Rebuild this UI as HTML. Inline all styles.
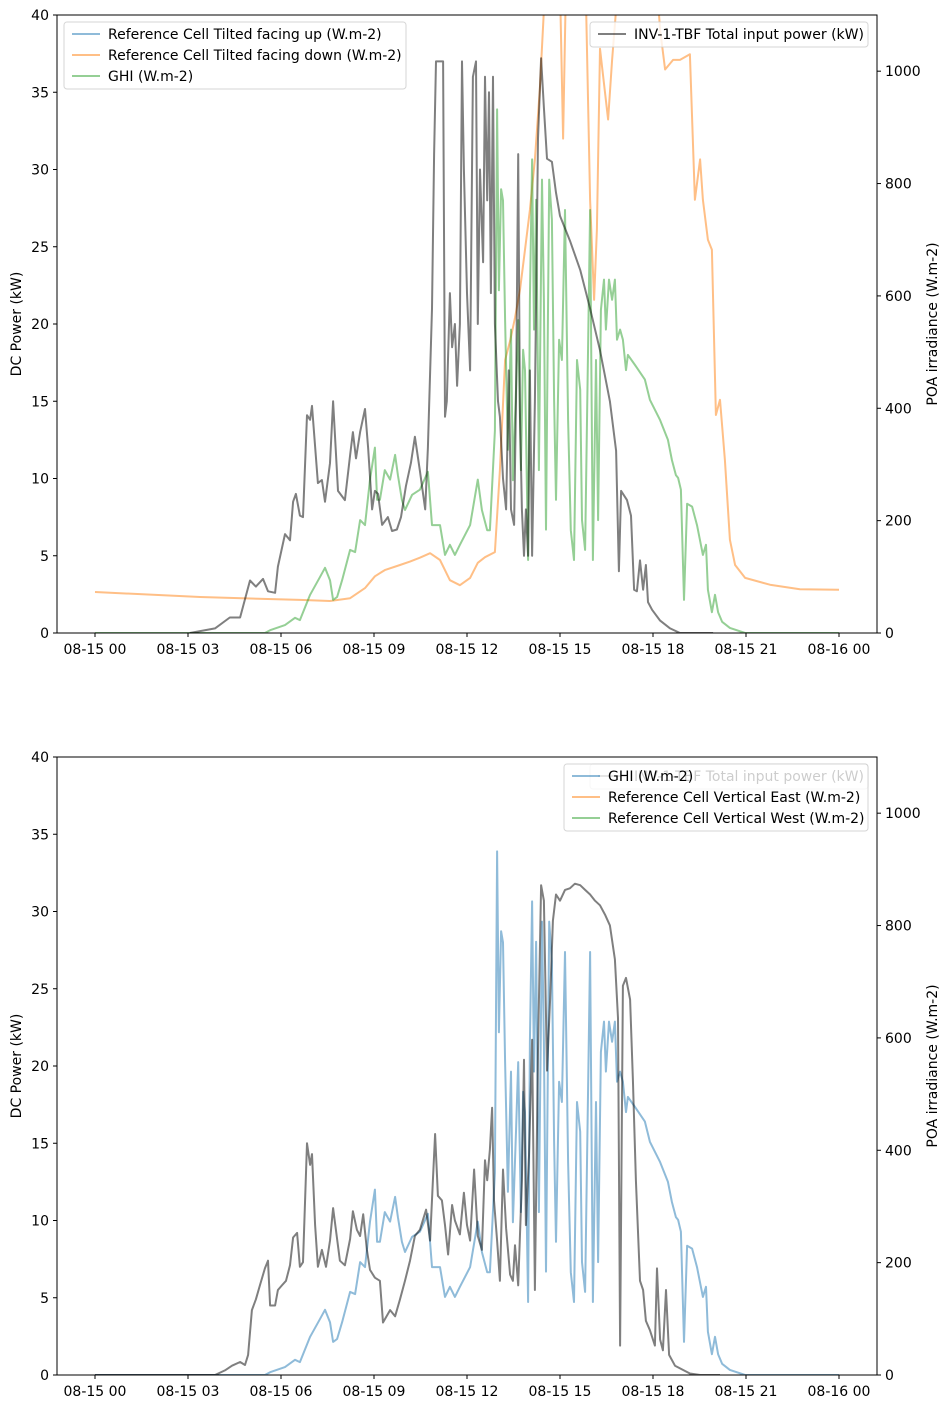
<!DOCTYPE html>
<html><head><meta charset="utf-8">
<style>
html,body{margin:0;padding:0;background:#fff;}
svg{display:block;font-family:"DejaVu Sans","Liberation Sans",sans-serif;}
</style></head>
<body>
<svg id="chart" width="949" height="1408" viewBox="0 0 949 1408" xmlns="http://www.w3.org/2000/svg"></svg>
<script>
// ---- data (hours since 08-15 00, values) ----
const xTickHours = [0,3,6,9,12,15,18,21,24];
const xTickLabels = ["08-15 00","08-15 03","08-15 06","08-15 09","08-15 12","08-15 15","08-15 18","08-15 21","08-16 00"];
const leftTicks = [0,5,10,15,20,25,30,35,40];
const rightTicks = [0,200,400,600,800,1000];

const topPowerH = [3.06,3.87,4.35,4.68,5.0,5.19,5.42,5.58,5.81,5.9,6.13,6.29,6.39,6.48,6.61,6.71,6.84,6.94,7.0,7.19,7.32,7.42,7.58,7.68,7.84,8.06,8.23,8.32,8.42,8.55,8.71,8.81,8.94,9.03,9.13,9.26,9.45,9.58,9.74,9.87,10.03,10.19,10.32,10.48,10.65,10.74,10.87,10.94,11.0,11.13,11.23,11.29,11.35,11.45,11.52,11.61,11.68,11.77,11.84,11.9,12.0,12.1,12.19,12.29,12.35,12.42,12.52,12.58,12.65,12.71,12.77,12.84,12.9,13.0,13.06,13.16,13.26,13.35,13.42,13.52,13.58,13.65,13.71,13.77,13.84,13.9,13.97,14.03,14.1,14.19,14.29,14.39,14.48,14.58,14.74,14.87,15.0,15.32,15.65,15.97,16.29,16.61,16.81,16.9,16.97,17.16,17.29,17.39,17.48,17.58,17.68,17.77,17.84,17.97,18.23,18.55,18.87,19.94];
const topPowerV = [0,0.3,1.0,1.0,3.4,3.0,3.5,2.7,2.6,4.3,6.4,6.0,8.5,9.0,7.6,7.5,14.1,13.8,14.7,9.7,9.9,8.5,11,15,9.2,8.6,11.5,13,11.3,13,14.5,12,8,9.2,9,7,7.5,6.6,6.7,7.5,9.5,11,12.7,10.5,8,12,21,31,37,37,37,14,15,22,18.5,20,16,20,37,30,22,17,36,37,20,30,24,36,28,35,22,36,20,15,14,10,8,17,8,7,15,31,14,8,5,8,5,17,5,15,32,37.2,34,30.7,30.5,28.5,27,25.4,23.5,21,18.3,15,11.8,4,9.2,8.6,7.6,2.8,2.7,4.7,2.8,4.4,2,1.5,0.8,0.3,0,0];

const downH = [0,3.39,6.61,7.58,8.23,8.71,9.03,9.35,9.84,10.16,10.48,10.81,11.13,11.45,11.77,12.1,12.35,12.58,12.9,13.06,13.23,13.39,13.55,13.71,13.87,14.03,14.19,14.35,14.52,14.84,15.0,15.1,15.19,15.48,15.81,15.97,16.1,16.19,16.29,16.55,16.68,16.94,18.06,18.23,18.39,18.65,18.87,19.19,19.35,19.52,19.61,19.77,19.9,20.03,20.16,20.32,20.48,20.65,20.97,21.77,22.74,24.0];
const downV = [73,64,59,57,62,80,101,112,121,127,134,142,130,94,85,98,125,135,144,290,486,520,561,611,682,753,843,967,1150,1200,1150,880,1150,1150,1200,771,593,718,1040,914,1020,1200,1200,1074,1003,1020,1020,1030,771,843,771,700,682,388,415,308,166,121,98,86,78,77];

const ghiH = [0,5.48,5.65,6.13,6.45,6.61,6.94,7.26,7.42,7.58,7.68,7.81,7.97,8.23,8.39,8.55,8.71,8.87,9.03,9.1,9.19,9.35,9.52,9.68,9.77,9.9,10.0,10.23,10.48,10.74,10.87,11.13,11.29,11.45,11.61,11.77,12.1,12.35,12.48,12.65,12.74,12.9,12.97,13.03,13.1,13.16,13.23,13.32,13.42,13.48,13.58,13.65,13.74,13.81,13.87,13.97,14.03,14.1,14.16,14.23,14.32,14.42,14.48,14.55,14.65,14.74,14.81,14.87,14.97,15.06,15.16,15.26,15.35,15.45,15.55,15.65,15.71,15.81,15.97,16.06,16.16,16.23,16.32,16.42,16.48,16.58,16.68,16.77,16.84,16.94,17.03,17.13,17.19,17.42,17.74,17.9,18.23,18.48,18.61,18.74,18.81,18.9,19.0,19.1,19.26,19.42,19.61,19.71,19.77,19.9,20.0,20.1,20.23,20.48,20.97,24];
const ghiV = [0,0,5,14,27,23,68,100,116,94,59,64,94,148,144,201,192,273,330,237,237,290,273,317,281,237,219,246,255,287,192,192,139,157,139,157,192,273,219,183,183,360,932,610,790,770,557,326,540,272,433,557,290,504,468,130,593,843,540,771,290,807,593,184,807,736,415,237,522,486,753,379,183,130,486,433,201,148,753,130,486,201,575,629,540,629,593,629,522,540,522,468,495,477,451,415,379,344,308,281,276,255,59,230,225,192,139,157,77,37,68,37,20,9,0,0];

const botPowerH = [0,3.87,4.19,4.42,4.68,4.84,4.94,5.06,5.19,5.32,5.48,5.58,5.65,5.81,5.9,6.03,6.16,6.29,6.39,6.52,6.61,6.71,6.84,6.94,7.0,7.1,7.19,7.32,7.45,7.58,7.68,7.77,7.9,8.06,8.23,8.32,8.45,8.55,8.65,8.77,8.87,9.03,9.19,9.29,9.52,9.68,9.84,10.0,10.16,10.32,10.48,10.68,10.81,10.9,10.97,11.06,11.19,11.29,11.39,11.52,11.61,11.77,11.9,12.0,12.1,12.23,12.35,12.48,12.58,12.65,12.74,12.81,12.87,12.97,13.06,13.16,13.26,13.39,13.48,13.55,13.65,13.77,13.84,13.9,14.0,14.1,14.19,14.29,14.39,14.48,14.58,14.68,14.77,14.87,15.0,15.16,15.32,15.48,15.65,15.81,15.97,16.13,16.29,16.45,16.61,16.77,16.87,16.94,17.03,17.13,17.26,17.35,17.45,17.58,17.68,17.77,17.9,18.06,18.13,18.23,18.32,18.42,18.52,18.71,19.19,19.52,20.16];
const botPowerV = [0,0,0.3,0.6,0.84,0.65,1.3,4.2,4.9,5.8,6.9,7.4,4.5,4.5,5.5,5.8,6.1,7.1,8.9,9.2,7.0,7.3,15,13.6,14.3,9.7,7.0,8.1,7.0,8.7,10.8,9.4,7.4,7.1,8.8,10.6,9.4,9.0,10.4,8.1,6.8,6.3,6.1,3.4,4.2,3.8,4.9,6.1,7.4,9.0,9.4,10.7,8.7,12.6,15.6,11.6,11.3,9.7,7.8,11.0,10.0,9.1,11.8,9.7,8.7,13.3,9.0,8.1,13.9,12.6,14.6,17.3,11.3,8.7,6.1,13.3,9.5,6.5,6.1,8.4,5.8,12.6,20.4,9.7,14.2,21.7,5.5,21.0,31.7,30.7,19.7,24.3,29.4,31.1,30.7,31.4,31.5,31.8,31.7,31.4,31.1,30.7,30.4,29.8,29.1,26.9,23.1,1.9,25.2,25.7,24.3,19.1,12.6,6.1,5.5,3.5,2.9,1.9,6.9,2.3,1.6,5.5,1.3,0.6,0.1,0,0];

// ---- layout ----
const NS = "http://www.w3.org/2000/svg";
const svg = document.getElementById('chart');
const X0 = 57, X1 = 877;
const FS = 14;
function xs(h){ return 95 + h * 31; }
function mk(tag, attrs, parent){
  const e = document.createElementNS(NS, tag);
  for (const k in attrs) e.setAttribute(k, attrs[k]);
  (parent || svg).appendChild(e);
  return e;
}
const panels = [
  {top:15, bottom:633},
  {top:757, bottom:1375}
];
function yL(p, v){ return p.bottom - v * (p.bottom - p.top) / 40; }
function yR(p, v){ return p.bottom - v * (p.bottom - p.top) / 1100; }

function drawAxes(p, idx){
  const g = mk('g', {});
  
  
  const cp = mk('clipPath', {id:'clip'+idx}, g);
  mk('rect', {x:X0, y:p.top, width:X1-X0, height:p.bottom-p.top}, cp);
  leftTicks.forEach(v => {
    const y = yL(p, v);
    mk('line', {x1:X0-4, x2:X0, y1:y, y2:y, stroke:'#000', 'stroke-width':1}, g);
    const t = mk('text', {x:X0-8, y:y+5, 'text-anchor':'end', 'font-size':FS}, g);
    t.textContent = v;
    
    
  });
  rightTicks.forEach(v => {
    const y = yR(p, v);
    mk('line', {x1:X1, x2:X1+4, y1:y, y2:y, stroke:'#000', 'stroke-width':1}, g);
    const t = mk('text', {x:X1+8, y:y+5, 'text-anchor':'start', 'font-size':FS}, g);
    t.textContent = v;
    
    
  });
  xTickHours.forEach((h, i) => {
    const x = xs(h);
    mk('line', {x1:x, x2:x, y1:p.bottom, y2:p.bottom+4, stroke:'#000', 'stroke-width':1}, g);
    const t = mk('text', {x:x, y:p.bottom+21, 'text-anchor':'middle', 'font-size':FS}, g);
    t.textContent = xTickLabels[i];
    
    
  });
  const cy = (p.top + p.bottom) / 2;
  const ly = mk('text', {x:0, y:0, 'text-anchor':'middle', 'font-size':FS, transform:`translate(21,${cy}) rotate(-90)`}, g);
  ly.textContent = 'DC Power (kW)';
  
  
  const ry = mk('text', {x:0, y:0, 'text-anchor':'middle', 'font-size':FS, transform:`translate(937,${cy}) rotate(-90)`}, g);
  ry.textContent = 'POA irradiance (W.m-2)';
  
  
  return g;
}
function line(p, idx, H, V, scale, color, name){
  let d = '';
  H.forEach((h, i) => { d += (i ? 'L' : 'M') + xs(h).toFixed(1) + ',' + scale(p, V[i]).toFixed(1); });
  const path = mk('path', {d:d, fill:'none', stroke:color, 'stroke-opacity':0.5, 'stroke-width':2, 'stroke-linejoin':'round', 'clip-path':`url(#clip${idx})`});
  
  
}
function frame(p){
  const r = mk('rect', {x:X0, y:p.top, width:X1-X0, height:p.bottom-p.top, fill:'none', stroke:'#000', 'stroke-width':1});
  
  
}
function legend(x, y, w, entries, name, textColor, bgOpacity){
  const g = mk('g', {});
  
  
  mk('rect', {x:x, y:y, width:w, height:entries.length*21+4, rx:3, fill:'#fff', 'fill-opacity':bgOpacity, stroke:'#ccc', 'stroke-opacity':0.8}, g);
  entries.forEach((e, i) => {
    const cy = y + 12 + i*21;
    mk('line', {x1:x+8, x2:x+36, y1:cy, y2:cy, stroke:e[1], 'stroke-opacity':0.5, 'stroke-width':2}, g);
    const t = mk('text', {x:x+44, y:cy+5, 'font-size':FS, fill:textColor}, g);
    t.textContent = e[0];
    
    
  });
}

// Panel 1
const p1 = panels[0];
drawAxes(p1, 0);
line(p1, 0, downH, downV, yR, '#ff7f0e', 'facing-down-line');
line(p1, 0, ghiH, ghiV, yR, '#2ca02c', 'ghi-line');
line(p1, 0, topPowerH, topPowerV, yL, '#000000', 'inv-power-line');
frame(p1);
legend(64, 22, 342, [['Reference Cell Tilted facing up (W.m-2)','#1f77b4'],['Reference Cell Tilted facing down (W.m-2)','#ff7f0e'],['GHI (W.m-2)','#2ca02c']], 'top-left-legend', '#000', 0.8);
legend(590, 22, 278, [['INV-1-TBF Total input power (kW)','#000000']], 'top-right-legend', '#000', 0.8);

// Panel 2
const p2 = panels[1];
drawAxes(p2, 1);
line(p2, 1, ghiH, ghiV, yR, '#1f77b4', 'ghi-line-bottom');
line(p2, 1, botPowerH, botPowerV, yL, '#000000', 'inv-power-line-bottom');
frame(p2);
legend(590, 764, 278, [['INV-1-TBF Total input power (kW)','#000000']], 'bottom-right-legend-back', '#000', 0.8);
legend(564, 764, 304, [['GHI (W.m-2)','#1f77b4'],['Reference Cell Vertical East (W.m-2)','#ff7f0e'],['Reference Cell Vertical West (W.m-2)','#2ca02c']], 'bottom-legend', '#000', 0.8);
</script>
</body></html>
